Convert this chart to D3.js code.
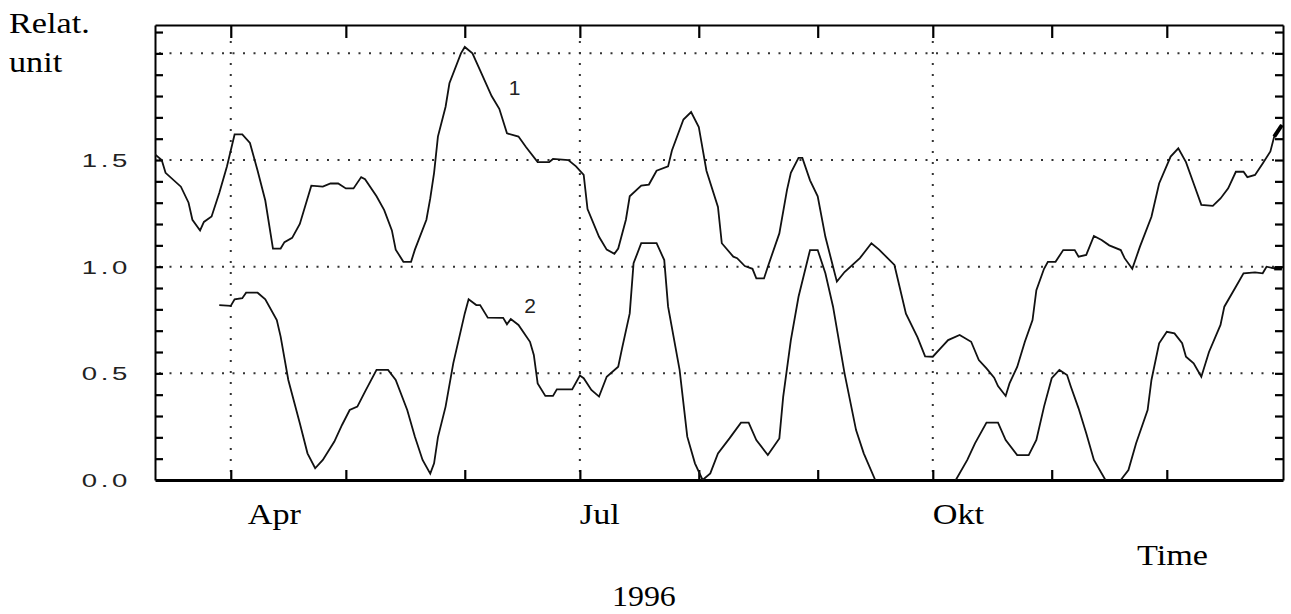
<!DOCTYPE html>
<html>
<head>
<meta charset="utf-8">
<script src="https://cdn.jsdelivr.net/npm/d3@7"></script>
<style>
  html, body { margin: 0; padding: 0; background: #fff; }
  svg { display: block; }
</style>
</head>
<body>
<svg id="chart" width="1291" height="614"></svg>
<script>
// ---------------- DATA ----------------
const series1Dates = ["1996-03-12","1996-03-14","1996-03-15","1996-03-19","1996-03-21","1996-03-22","1996-03-24","1996-03-25","1996-03-27","1996-03-29","1996-03-31","1996-04-02","1996-04-04","1996-04-06","1996-04-08","1996-04-10","1996-04-12","1996-04-14","1996-04-15","1996-04-17","1996-04-19","1996-04-22","1996-04-25","1996-04-27","1996-04-29","1996-05-01","1996-05-03","1996-05-05","1996-05-06","1996-05-09","1996-05-11","1996-05-13","1996-05-14","1996-05-16","1996-05-18","1996-05-19","1996-05-22","1996-05-23","1996-05-24","1996-05-25","1996-05-27","1996-05-28","1996-05-31","1996-06-01","1996-06-03","1996-06-05","1996-06-08","1996-06-10","1996-06-12","1996-06-15","1996-06-17","1996-06-20","1996-06-23","1996-06-24","1996-06-28","1996-06-30","1996-07-02","1996-07-03","1996-07-06","1996-07-08","1996-07-10","1996-07-11","1996-07-13","1996-07-14","1996-07-17","1996-07-19","1996-07-21","1996-07-24","1996-07-25","1996-07-28","1996-07-30","1996-08-01","1996-08-03","1996-08-06","1996-08-07","1996-08-10","1996-08-11","1996-08-13","1996-08-15","1996-08-16","1996-08-18","1996-08-19","1996-08-22","1996-08-24","1996-08-25","1996-08-27","1996-08-28","1996-08-30","1996-09-01","1996-09-03","1996-09-05","1996-09-06","1996-09-08","1996-09-12","1996-09-15","1996-09-17","1996-09-21","1996-09-24","1996-09-27","1996-09-29","1996-10-01","1996-10-03","1996-10-05","1996-10-08","1996-10-11","1996-10-13","1996-10-15","1996-10-17","1996-10-18","1996-10-20","1996-10-21","1996-10-23","1996-10-25","1996-10-27","1996-10-28","1996-10-30","1996-10-31","1996-11-02","1996-11-04","1996-11-07","1996-11-08","1996-11-10","1996-11-12","1996-11-14","1996-11-16","1996-11-19","1996-11-20","1996-11-22","1996-11-24","1996-11-27","1996-11-29","1996-12-02","1996-12-04","1996-12-06","1996-12-08","1996-12-10","1996-12-13","1996-12-15","1996-12-17","1996-12-19","1996-12-21","1996-12-22","1996-12-24","1996-12-26","1996-12-28","1996-12-29","1996-12-31"];
const series1Values = [1.53,1.50,1.44,1.375,1.30,1.22,1.17,1.21,1.235,1.345,1.47,1.62,1.62,1.58,1.45,1.31,1.085,1.085,1.115,1.135,1.20,1.38,1.375,1.39,1.39,1.367,1.367,1.42,1.41,1.33,1.265,1.17,1.08,1.023,1.023,1.08,1.22,1.32,1.44,1.61,1.75,1.86,2.0,2.03,2.0,1.92,1.80,1.74,1.625,1.61,1.56,1.49,1.49,1.505,1.50,1.47,1.43,1.27,1.14,1.08,1.06,1.085,1.22,1.33,1.38,1.385,1.45,1.47,1.545,1.69,1.725,1.655,1.45,1.28,1.11,1.047,1.04,1.003,0.99,0.945,0.945,1.0,1.156,1.36,1.44,1.51,1.51,1.405,1.33,1.14,1.0,0.93,0.975,1.04,1.11,1.08,1.008,0.78,0.67,0.58,0.578,0.617,0.656,0.68,0.648,0.5625,0.523,0.48,0.44,0.394,0.453,0.53,0.648,0.75,0.89,0.99,1.023,1.023,1.078,1.078,1.047,1.055,1.144,1.125,1.10,1.078,1.04,0.99,1.094,1.234,1.39,1.516,1.555,1.49,1.39,1.29,1.285,1.32,1.367,1.445,1.445,1.42,1.43,1.484,1.54,1.61,1.664];

// null = curve below the plotted range (hidden)
const series2Dates = ["1996-03-29","1996-04-01","1996-04-02","1996-04-04","1996-04-05","1996-04-08","1996-04-10","1996-04-13","1996-04-14","1996-04-16","1996-04-19","1996-04-21","1996-04-23","1996-04-25","1996-04-28","1996-04-30","1996-05-02","1996-05-04","1996-05-06","1996-05-09","1996-05-12","1996-05-14","1996-05-17","1996-05-19","1996-05-21","1996-05-23","1996-05-24","1996-05-25","1996-05-27","1996-05-29","1996-06-01","1996-06-02","1996-06-04","1996-06-05","1996-06-07","1996-06-11","1996-06-12","1996-06-13","1996-06-15","1996-06-18","1996-06-19","1996-06-20","1996-06-22","1996-06-24","1996-06-25","1996-06-29","1996-07-01","1996-07-02","1996-07-04","1996-07-06","1996-07-08","1996-07-11","1996-07-12","1996-07-14","1996-07-15","1996-07-17","1996-07-21","1996-07-23","1996-07-24","1996-07-27","1996-07-29","1996-07-31","1996-08-02","1996-08-04","1996-08-06","1996-08-09","1996-08-12","1996-08-14","1996-08-16","1996-08-19","1996-08-22","1996-08-23","1996-08-25","1996-08-27","1996-08-30","1996-09-01","1996-09-03","1996-09-05","1996-09-08","1996-09-11","1996-09-13","1996-09-16","1996-09-30","1996-10-07","1996-10-10","1996-10-12","1996-10-15","1996-10-18","1996-10-20","1996-10-23","1996-10-26","1996-10-28","1996-10-30","1996-11-01","1996-11-03","1996-11-05","1996-11-06","1996-11-08","1996-11-10","1996-11-12","1996-11-15","1996-11-17","1996-11-19","1996-11-21","1996-11-23","1996-11-26","1996-11-27","1996-11-29","1996-12-01","1996-12-03","1996-12-05","1996-12-06","1996-12-08","1996-12-10","1996-12-12","1996-12-15","1996-12-16","1996-12-19","1996-12-21","1996-12-24","1996-12-26","1996-12-27","1996-12-29","1996-12-31"];
const series2Values = [0.82,0.816,0.847,0.852,0.878,0.878,0.847,0.75,0.672,0.469,0.266,0.125,0.055,0.094,0.18,0.258,0.328,0.344,0.414,0.516,0.516,0.469,0.328,0.203,0.094,0.03,0.078,0.2,0.344,0.547,0.781,0.847,0.82,0.82,0.761,0.76,0.73,0.755,0.727,0.648,0.586,0.453,0.394,0.394,0.425,0.425,0.49,0.477,0.422,0.391,0.484,0.531,0.617,0.781,1.016,1.11,1.11,1.031,0.8125,0.516,0.203,0.078,0.0,0.031,0.125,0.195,0.269,0.269,0.1875,0.117,0.195,0.39,0.656,0.859,1.078,1.078,0.969,0.8125,0.5,0.234,0.125,0.0,null,0.0,0.094,0.172,0.269,0.269,0.1875,0.117,0.117,0.1875,0.344,0.477,0.516,0.492,0.4375,0.336,0.219,0.094,0.0,null,0.0,0.047,0.172,0.328,0.469,0.641,0.695,0.6875,0.641,0.578,0.547,0.484,0.60,0.727,0.8125,0.906,0.969,0.973,0.969,1.0,0.992,0.992];

const seriesNames = ["1", "2"];
const seriesLabelDates = ["1996-06-14", "1996-06-18"];
const seriesLabelValues = [1.83, 0.81];

const monthLabels = ["Apr", "Jul", "Okt"];
const monthLabelDates = ["1996-04-01", "1996-07-01", "1996-10-01"];
const yTickLabels = ["0.0", "0.5", "1.0", "1.5"];
const yTickLabelValues = [0.0, 0.5, 1.0, 1.5];
const yGridValues = [0.5, 1.0, 1.5, 2.0];
const yAxisTitle = ["Relat.", "unit"];
const xAxisTitle = "Time";
const yearLabel = "1996";

// ---------------- CHART ----------------
const svg = d3.select("#chart");
const L = 155, R = 1283, T = 25, B = 480;
const parse = d3.utcParse("%Y-%m-%d");

const x = d3.scaleUtc()
  .domain([new Date(Date.UTC(1996, 2, 12, 6)), new Date(Date.UTC(1996, 11, 31, 7))])
  .range([L, R]);
const y = d3.scaleLinear().domain([0, 2.133]).range([B, T]);

const months = d3.utcMonths(x.domain()[0], x.domain()[1]);
const yMinor = d3.range(1, 22).map(i => i / 10);

svg.append("defs").append("clipPath").attr("id", "clip")
  .append("rect").attr("x", L).attr("y", T).attr("width", R - L).attr("height", B - T);

// grid (dotted)
const grid = svg.append("g").attr("stroke", "#333").attr("stroke-width", 2);
grid.selectAll("line.h").data(yGridValues).join("line")
  .attr("x1", L + 4).attr("x2", R - 2)
  .attr("y1", d => y(d)).attr("y2", d => y(d))
  .attr("stroke-dasharray", "2,8.5");
grid.selectAll("line.v").data(monthLabelDates.map(parse)).join("line")
  .attr("x1", d => x(d)).attr("x2", d => x(d))
  .attr("y1", T + 16).attr("y2", B - 2)
  .attr("stroke-dasharray", "2,9");

// axes with inward ticks
function styleAxis(g, w) {
  g.selectAll("text").remove();
  g.selectAll(".tick line").attr("stroke", "#000").attr("stroke-width", 2.2);
  g.select(".domain").attr("stroke", "#000").attr("stroke-width", w);
}
svg.append("g").attr("transform", `translate(0,${T})`)
  .call(d3.axisTop(x).tickValues(months).tickSize(-13).tickSizeOuter(0).tickFormat(""))
  .call(g => styleAxis(g, 2));
svg.append("g").attr("transform", `translate(0,${B})`)
  .call(d3.axisBottom(x).tickValues(months).tickSize(-10).tickSizeOuter(0).tickFormat(""))
  .call(g => styleAxis(g, 3));
svg.append("g").attr("transform", `translate(${L},0)`)
  .call(d3.axisLeft(y).tickValues(yMinor).tickSize(-8).tickSizeOuter(0).tickFormat(""))
  .call(g => styleAxis(g, 2));
svg.append("g").attr("transform", `translate(${R},0)`)
  .call(d3.axisRight(y).tickValues(yMinor).tickSize(-8).tickSizeOuter(0).tickFormat(""))
  .call(g => styleAxis(g, 2));

// series
const s1 = series1Dates.map((d, i) => ({ date: parse(d), v: series1Values[i] }));
const s2 = series2Dates.map((d, i) => ({ date: parse(d), v: series2Values[i] }));
const line = d3.line().defined(d => d.v != null).x(d => x(d.date)).y(d => y(d.v));
const plot = svg.append("g").attr("clip-path", "url(#clip)");
[s1, s2].forEach(s => {
  plot.append("path").datum(s).attr("d", line)
    .attr("fill", "none").attr("stroke", "#111").attr("stroke-width", 1.8)
    .attr("stroke-linejoin", "miter");
  // heavier end mark
  plot.append("path").datum(s.slice(-2)).attr("d", line)
    .attr("fill", "none").attr("stroke", "#000").attr("stroke-width", 4);
});

// series labels
svg.selectAll("text.sl").data(seriesNames).join("text")
  .attr("x", (d, i) => x(parse(seriesLabelDates[i])))
  .attr("y", (d, i) => y(seriesLabelValues[i]))
  .attr("text-anchor", "middle").attr("dominant-baseline", "middle")
  .attr("font-family", "Liberation Sans, Arial, sans-serif").attr("font-size", 21)
  .attr("fill", "#222").text(d => d);

// y tick labels
svg.selectAll("text.yl").data(yTickLabels).join("text")
  .attr("transform", (d, i) => `translate(131,${y(yTickLabelValues[i]) + 7}) scale(1.45,1)`)
  .attr("text-anchor", "end")
  .attr("font-family", "Liberation Sans, Arial, sans-serif").attr("font-size", 19)
  .attr("letter-spacing", 2.5)
  .attr("fill", "#222").text(d => d);

// month labels
const monthDx = [17, 0, 0];
svg.selectAll("text.ml").data(monthLabels).join("text")
  .attr("transform", (d, i) => `translate(${x(parse(monthLabelDates[i])) + monthDx[i]},524) scale(1.18,1)`)
  .attr("font-family", "Liberation Serif, Times New Roman, serif").attr("font-size", 29)
  .attr("fill", "#000").text(d => d);

// titles
const serif = "Liberation Serif, Times New Roman, serif";
svg.selectAll("text.yt").data(yAxisTitle).join("text")
  .attr("transform", (d, i) => `translate(9,${33 + i * 39}) scale(1.18,1)`)
  .attr("font-family", serif).attr("font-size", 29).attr("fill", "#000").text(d => d);
svg.append("text").attr("transform", "translate(1137,565) scale(1.18,1)")
  .attr("font-family", serif).attr("font-size", 29).text(xAxisTitle);
svg.append("text").attr("transform", "translate(612,606) scale(1.1,1)")
  .attr("font-family", serif).attr("font-size", 29).text(yearLabel);
</script>
</body>
</html>
